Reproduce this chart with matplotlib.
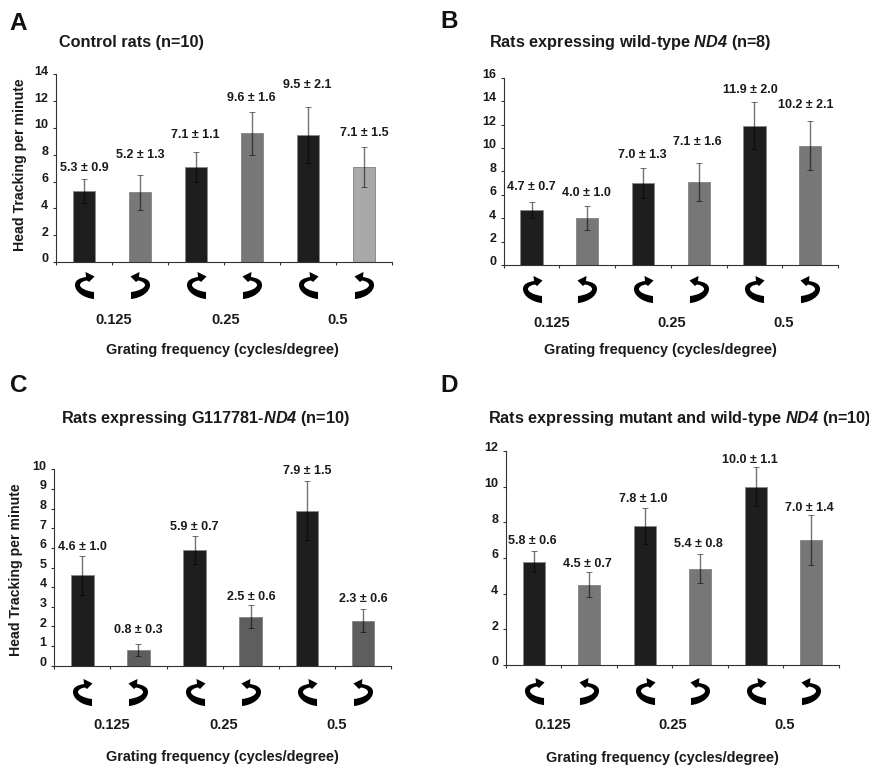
import matplotlib
matplotlib.use("Agg")
import matplotlib.pyplot as plt
from matplotlib.path import Path
from matplotlib.transforms import ScaledTranslation

W, H = 870, 767
plt.rcParams["font.family"] = ["Liberation Sans", "DejaVu Sans"]
plt.rcParams["font.weight"] = "bold"
plt.rcParams["mathtext.fontset"] = "custom"
plt.rcParams["mathtext.default"] = "regular"
plt.rcParams["mathtext.bf"] = "Liberation Sans:bold"
plt.rcParams["mathtext.bfit"] = "Liberation Sans:italic:bold"

FREQS = ["0.125", "0.25", "0.5"]
XLABEL = "Grating frequency (cycles/degree)"
YLABEL = "Head Tracking per minute"

# mean and sem per bar
A_MEANS = [5.3, 5.2, 7.1, 9.6, 9.5, 7.1]
A_SEMS = [0.9, 1.3, 1.1, 1.6, 2.1, 1.5]
B_MEANS = [4.7, 4.0, 7.0, 7.1, 11.9, 10.2]
B_SEMS = [0.7, 1.0, 1.3, 1.6, 2.0, 2.1]
C_MEANS = [4.6, 0.8, 5.9, 2.5, 7.9, 2.3]
C_SEMS = [1.0, 0.3, 0.7, 0.6, 1.5, 0.6]
D_MEANS = [5.8, 4.5, 7.8, 5.4, 10.0, 7.0]
D_SEMS = [0.6, 0.7, 1.0, 0.8, 1.1, 1.4]

A_COLORS = ["#1e1e1e", "#787878", "#1e1e1e", "#787878", "#1e1e1e", "#a9a9a9"]
B_COLORS = ["#1e1e1e", "#777777"] * 3
C_COLORS = ["#1e1e1e", "#5e5e5e"] * 3
D_COLORS = ["#1e1e1e", "#777777"] * 3

# label centres in image pixels
A_LABEL_X = [84, 140.3, 195, 251.7, 307, 364]
A_LABEL_Y = [168, 155, 135, 97.7, 85, 133]
B_LABEL_X = [531.3, 586.7, 642, 697.3, 750, 806]
B_LABEL_Y = [187.3, 193.3, 155, 142.3, 90.3, 105]
C_LABEL_X = [82.3, 138, 194, 251.3, 307, 363.3]
C_LABEL_Y = [547.3, 630, 527, 597, 471.3, 598.7]
D_LABEL_X = [532.7, 587.3, 643.7, 698.3, 750.3, 809.3]
D_LABEL_Y = [540.7, 563.7, 498.7, 544.3, 459.7, 508.3]


def curved_arrow(mirror=False):
    """Thick C-shaped arrow, head at the upper right (upper left if mirrored)."""
    verts = [
        (28, 31), (18, 30), (9, 24), (9, 17),   # outer edge from the tail
        (9, 12), (14, 10), (20, 9),
        (19.5, 4), (28.5, 8.5), (23, 14), (21, 12.5),  # arrow head
        (17, 13), (14, 15), (14, 17),           # inner edge back to the tail
        (14, 20), (20, 23), (28, 24), (28, 31),
    ]
    codes = [Path.MOVETO, Path.CURVE4, Path.CURVE4, Path.CURVE4,
             Path.CURVE4, Path.CURVE4, Path.CURVE4,
             Path.LINETO, Path.LINETO, Path.LINETO, Path.LINETO,
             Path.CURVE4, Path.CURVE4, Path.CURVE4,
             Path.CURVE4, Path.CURVE4, Path.CURVE4, Path.CLOSEPOLY]
    # centre it and flip y, pixels run downwards
    pts = [((x - 18.5) * (-1 if mirror else 1), -(y - 17.5)) for x, y in verts]
    return Path(pts, codes)


def px_text(fig, x, y, s, **kw):
    kw.setdefault("ha", "center")
    kw.setdefault("va", "center")
    return fig.text(x / W, 1 - y / H, s, **kw)


def draw_panel(fig, box, ymax, yticks, means, sems, colors, label_x, label_y, arrow_dy):
    left, right, top, y0 = box
    ax = fig.add_axes([left / W, 1 - y0 / H, (right - left) / W, (y0 - top) / H])
    xs = [i + 0.5 for i in range(6)]
    ax.bar(xs, means, width=0.4, color=colors, edgecolor="#8a8a8a", linewidth=0.7, zorder=2)
    ax.errorbar(xs, means, yerr=sems, fmt="none", ecolor="black", alpha=0.55,
                elinewidth=1.0, capsize=2, capthick=0.7, zorder=3)
    ax.set_xlim(0, 6)
    ax.set_ylim(0, ymax)
    ax.set_xticks(range(7))
    ax.set_xticklabels([])
    ax.set_yticks(yticks)
    ax.tick_params(axis="x", length=2.5, width=0.8, color="#333333")
    ax.tick_params(axis="y", length=2.5, width=0.8, color="#333333", pad=3, labelsize=9,
                   labelcolor="#1a1a1a")
    off = ScaledTranslation(0, 3 / 72, fig.dpi_scale_trans)
    for lab in ax.get_yticklabels():
        lab.set_transform(lab.get_transform() + off)
    ax.spines["top"].set_visible(False)
    ax.spines["right"].set_visible(False)
    ax.spines["left"].set_color("#333333")
    ax.spines["bottom"].set_color("#333333")
    ax.spines["left"].set_linewidth(0.8)
    ax.spines["bottom"].set_linewidth(0.8)
    ax.patch.set_alpha(0)

    for i, x in enumerate(xs):
        marker = curved_arrow(mirror=i % 2 == 1)
        ax.plot([x], [-arrow_dy / (y0 - top) * ymax], marker=marker, ms=19.5, color="black",
                mew=0, clip_on=False, zorder=4)
        px_text(fig, label_x[i], label_y[i], f"{means[i]:.1f} ± {sems[i]:.1f}",
                fontsize=9, color="#1a1a1a")
    return ax


fig = plt.figure(figsize=(W / 100, H / 100), dpi=100, facecolor="white")

draw_panel(fig, (56, 392, 74.5, 262), 14, range(0, 15, 2), A_MEANS, A_SEMS, A_COLORS,
           A_LABEL_X, A_LABEL_Y, 23.5)
draw_panel(fig, (503.7, 838, 77.7, 265), 16, range(0, 17, 2), B_MEANS, B_SEMS, B_COLORS,
           B_LABEL_X, B_LABEL_Y, 24)
draw_panel(fig, (54.3, 391, 469.3, 665.7), 10, range(0, 11), C_MEANS, C_SEMS, C_COLORS,
           C_LABEL_X, C_LABEL_Y, 26)
draw_panel(fig, (506, 839, 451, 665), 12, range(0, 13, 2), D_MEANS, D_SEMS, D_COLORS,
           D_LABEL_X, D_LABEL_Y, 26)

# panel letters
for s, x, y in [("A", 18.5, 23), ("B", 449, 22), ("C", 18.5, 385), ("D", 449, 385)]:
    px_text(fig, x, y, s, fontsize=17.5, color="#111111")

# titles
px_text(fig, 59, 42, "Control rats (n=10)", ha="left", fontsize=11.7, color="#1a1a1a")
px_text(fig, 489, 43, r"Rats expressing wild-type $\mathbfit{ND4}$ (n=8)", ha="left",
        fontsize=11.7, color="#1a1a1a")
px_text(fig, 61, 418, r"Rats expressing G117781-$\mathbfit{ND4}$ (n=10)", ha="left",
        fontsize=11.7, color="#1a1a1a")
px_text(fig, 488, 418, r"Rats expressing mutant and wild-type $\mathbfit{ND4}$ (n=10)", ha="left",
        fontsize=11.7, color="#1a1a1a")

# frequency labels and x titles
for xs, y in [((113.7, 226, 337.7), 320), ((551.3, 671.7, 783.3), 322.7),
              ((111.3, 224, 336.7), 725.3), ((552.3, 672.7, 785), 725.3)]:
    for x, s in zip(xs, FREQS):
        px_text(fig, x, y, s, fontsize=10.5, color="#1a1a1a")
for x, y in [(222.5, 350), (660.7, 350), (222.3, 757), (662.3, 757.7)]:
    px_text(fig, x, y, XLABEL, fontsize=10.4, color="#1a1a1a")

# y titles, left column only
px_text(fig, 20, 165, YLABEL, rotation=90, fontsize=10.2, color="#1a1a1a")
px_text(fig, 16, 570, YLABEL, rotation=90, fontsize=10.2, color="#1a1a1a")

fig.savefig("out.png", dpi=100)
